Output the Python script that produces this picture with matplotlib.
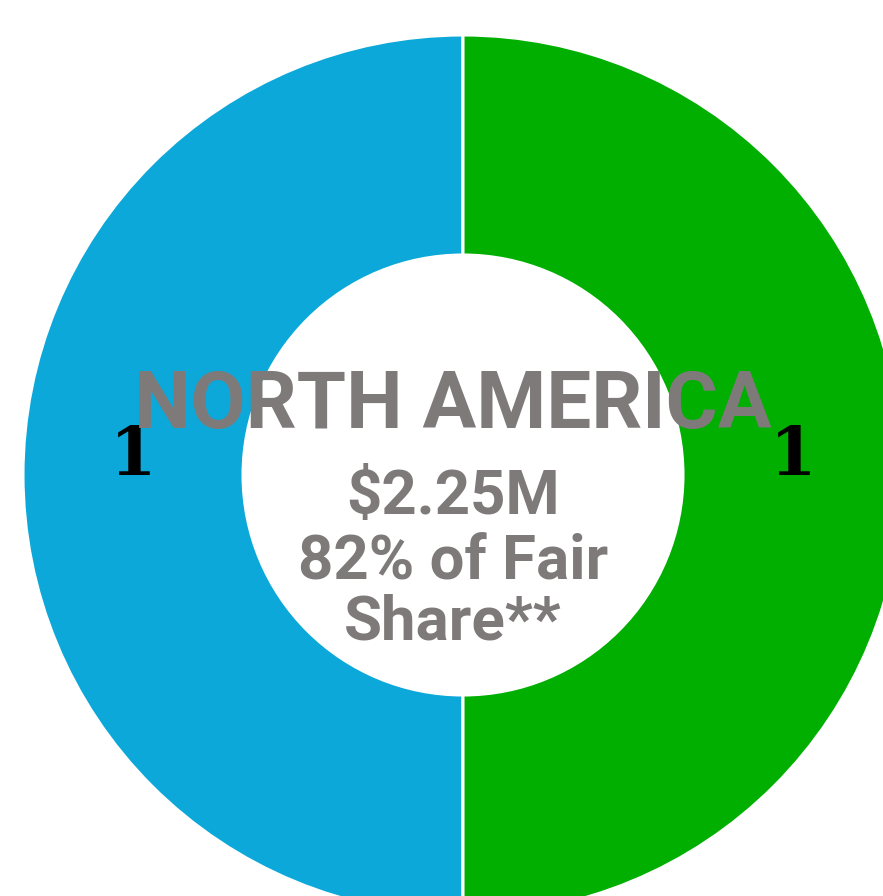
import matplotlib
matplotlib.use("Agg")
import matplotlib.pyplot as plt

# data
regions = ["Left", "Right"]
values = [1, 1]
slice_labels = ["1", "1"]
colors = ["#0BA8D9", "#00AF00"]
title = "NORTH AMERICA"
subtitle_lines = ["$2.25M", "82% of Fair", "Share**"]

W, H = 883, 896
fig = plt.figure(figsize=(W / 100, H / 100), dpi=100)
ax = fig.add_axes([0, 0, 1, 1])

cx, cy = 463, H - 475
R = 440

wedges, texts = ax.pie(
    values,
    labels=slice_labels,
    colors=colors,
    startangle=90,
    counterclock=True,
    center=(cx, cy),
    radius=R,
    labeldistance=0.75,
    wedgeprops=dict(width=R * 0.5, edgecolor="white", linewidth=2.2),
    textprops=dict(fontsize=48, fontweight="bold", family="DejaVu Serif", color="black"),
)
for t in texts:
    t.set_ha("center")
    t.set_va("baseline")

ax.set_xlim(0, W)
ax.set_ylim(0, H)
ax.set_aspect("auto")
ax.axis("off")

gray = "#7E7A7A"
ax.text(453, H - 428, title, ha="center", va="baseline",
        fontsize=57.5, fontweight="bold", family="Roboto", color=gray)
baselines = [514, 579, 639]
for line, b in zip(subtitle_lines, baselines):
    ax.text(453, H - b, line, ha="center", va="baseline",
            fontsize=44.5, fontweight="bold", family="Roboto", color=gray)

fig.savefig("out.png", dpi=100)
